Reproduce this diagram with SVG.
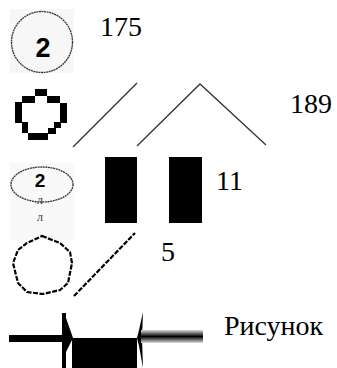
<svg xmlns="http://www.w3.org/2000/svg" width="337" height="368" viewBox="0 0 337 368">
<style>
.num{font-family:"Liberation Serif","Times New Roman",serif;font-size:28px;fill:#000}
.thin{fill:none;stroke:#333;stroke-width:1.3}
.blk{fill:#000}
</style>
<defs>
<linearGradient id="band" x1="0" y1="0" x2="0" y2="1">
<stop offset="0" stop-color="#ddd"/>
<stop offset="0.5" stop-color="#000"/>
<stop offset="1" stop-color="#ddd"/>
</linearGradient>
</defs>
<rect width="337" height="368" fill="#fff"/>
<g id="node-circle2">
<rect x="10" y="9" width="64" height="64" fill="#f7f7f7"/>
<circle cx="42" cy="42" r="30.5" class="thin" stroke-dasharray="2 0.6"/>
<text x="43" y="57" text-anchor="middle" font-family="Liberation Sans,Arial,sans-serif" font-weight="bold" font-size="27">2</text>
</g>
<g id="label-175"><text class="num" x="100" y="36">175</text></g>
<g id="node-octagon" class="blk">
<rect x="35" y="89" width="12" height="7"/>
<rect x="22" y="96" width="13" height="7"/>
<rect x="47" y="96" width="13" height="7"/>
<rect x="15" y="102" width="7" height="21"/>
<rect x="60" y="103" width="7" height="20"/>
<rect x="22" y="122" width="6" height="11"/>
<rect x="54" y="122" width="7" height="6"/>
<rect x="48" y="128" width="8" height="6"/>
<rect x="28" y="133" width="20" height="7"/>
</g>
<g id="connectors">
<line x1="73" y1="147" x2="137" y2="83" class="thin"/>
<polyline points="137,146 200,84 266,145" class="thin"/>
<polyline points="74,296 135,233" fill="none" stroke="#000" stroke-width="2.2" stroke-dasharray="5 1.5"/>
</g>
<g id="label-189"><text class="num" x="290" y="113">189</text></g>
<g id="node-ellipse2">
<rect x="10" y="163" width="64" height="77" fill="#f9f9f9"/>
<ellipse cx="42" cy="184.5" rx="31" ry="17.5" class="thin" stroke-dasharray="2 0.6"/>
<text x="40" y="187" text-anchor="middle" font-family="Liberation Sans,Arial,sans-serif" font-weight="bold" font-size="19">2</text>
<text x="40" y="204" text-anchor="middle" font-family="Liberation Serif,serif" font-size="12" fill="#444">л</text>
<text x="40" y="221" text-anchor="middle" font-family="Liberation Serif,serif" font-size="12" fill="#444">л</text>
</g>
<g id="node-rect1"><rect x="105" y="157" width="32" height="66" class="blk"/></g>
<g id="node-rect2"><rect x="169" y="157" width="33" height="66" class="blk"/></g>
<g id="label-11"><text class="num" x="216" y="190">11</text></g>
<g id="node-polycircle">
<polygon points="42,236 60,243 70,252 72,263 68,283 60,290 43,294 27,292 18,283 13,263 18,250 27,243" fill="none" stroke="#000" stroke-width="2.2" stroke-dasharray="5 1.5"/>
</g>
<g id="label-5"><text class="num" x="161" y="261">5</text></g>
<g id="node-arrows">
<rect x="9" y="335" width="54" height="7" class="blk"/>
<rect x="62" y="313" width="4" height="55" class="blk"/>
<polygon points="66,318 73,338 66,352" class="blk"/>
<rect x="72" y="338" width="65" height="30" class="blk"/>
<polygon points="143,312 139,330 137,338 139,346 143,368 142,338" class="blk"/>
<rect x="141" y="330" width="62" height="13" fill="url(#band)"/>
</g>
<g id="label-caption"><text class="num" x="224" y="335">Рисунок</text></g>
</svg>
